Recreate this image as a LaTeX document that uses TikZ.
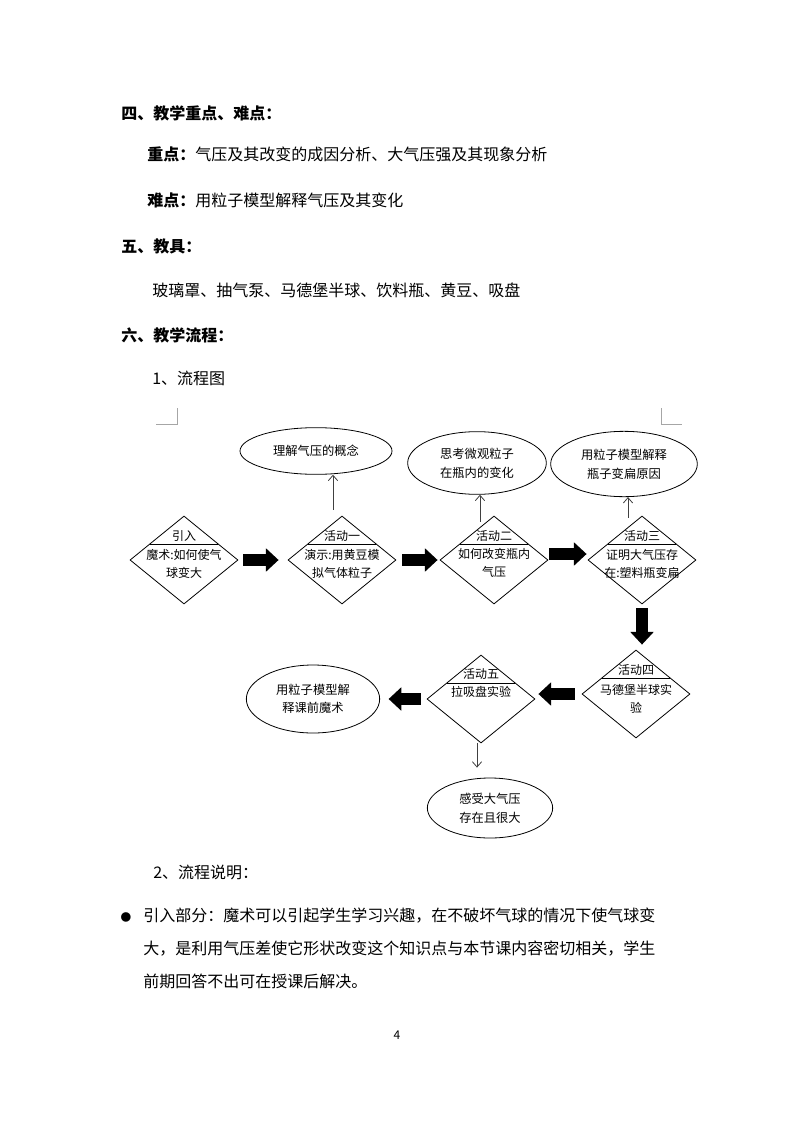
\documentclass[tikz,border=0pt]{standalone}
\usepackage{fontspec}
\setmainfont{Noto Sans CJK SC}
\usepackage{tikz}
\usetikzlibrary{arrows.meta,shapes.geometric}
\tikzset{
  headtext/.style={anchor=west, inner sep=0pt, font=\fontsize{12}{14}\selectfont\bfseries},
  plaintext/.style={anchor=west, inner sep=0pt, font=\fontsize{12}{14}\selectfont},
  stepnode/.style={diamond, draw=black, line width=0.6pt, minimum width=81pt,
    minimum height=66pt, inner sep=0pt},
  titletext/.style={inner sep=0pt, font=\fontsize{9}{14}\selectfont},
  bodytext/.style={inner sep=0pt, align=center, font=\fontsize{9}{14}\selectfont},
  ovalnode/.style={ellipse, draw=black, line width=0.6pt, inner sep=0pt,
    align=center, font=\fontsize{9.2}{14}\selectfont},
  divline/.style={draw=black, line width=0.6pt},
  blockedge/.style={-{Triangle[length=9.5pt,width=17pt]}, draw=black, line width=9pt},
  thinedge/.style={-{Straight Barb[length=4pt,width=7pt]}, draw=black!75, line width=0.6pt},
  cornermark/.style={draw=black!35, line width=0.5pt},
}
\begin{document}
\begin{tikzpicture}[x=0.75pt, y=-0.75pt]
  \fill[white] (0,0) rectangle (794,1123);
  % headings and text above the chart
  \node[headtext] (h4) at (121,113) {四、教学重点、难点：};
  \node[plaintext] (key) at (147,154) {\textbf{重点：}气压及其改变的成因分析、大气压强及其现象分析};
  \node[plaintext] (hard) at (147,200) {\textbf{难点：}用粒子模型解释气压及其变化};
  \node[headtext] (h5) at (121,246) {五、教具：};
  \node[plaintext] (tools) at (152,290) {玻璃罩、抽气泵、马德堡半球、饮料瓶、黄豆、吸盘};
  \node[headtext] (h6) at (121,335) {六、教学流程：};
  \node[plaintext] (sub1) at (152,378) {1、流程图};
  \draw[cornermark] (156,424) -- (177,424) -- (177,408);
  \draw[cornermark] (661,408) -- (661,424) -- (682,424);
  % flow chart
  \node[stepnode] (D0) at (184,560) {};
  \node[stepnode] (D1) at (342,560) {};
  \node[stepnode] (D2) at (494,560) {};
  \node[stepnode] (D3) at (642,560) {};
  \node[stepnode] (D4) at (636,694) {};
  \node[stepnode] (D5) at (481,699) {};
  \foreach \d in {D0,D1,D2,D3,D4,D5}
    \draw[divline] ([shift={(-34.4,-16)}]\d.center) -- ([shift={(34.4,-16)}]\d.center);
  \node[titletext] (D0t) at ([shift={(0,-24)}]D0.center) {引入};
  \node[bodytext] (D0b) at ([shift={(0,4)}]D0.center) {魔术:如何使气\\球变大};
  \node[titletext] (D1t) at ([shift={(0,-24)}]D1.center) {活动一};
  \node[bodytext] (D1b) at ([shift={(0,4)}]D1.center) {演示:用黄豆模\\拟气体粒子};
  \node[titletext] (D2t) at ([shift={(0,-24)}]D2.center) {活动二};
  \node[bodytext] (D2b) at ([shift={(0,3)}]D2.center) {如何改变瓶内\\气压};
  \node[titletext] (D3t) at ([shift={(0,-24)}]D3.center) {活动三};
  \node[bodytext] (D3b) at ([shift={(0,4)}]D3.center) {证明大气压存\\在:塑料瓶变扁};
  \node[titletext] (D4t) at ([shift={(0,-24)}]D4.center) {活动四};
  \node[bodytext] (D4b) at ([shift={(0,5)}]D4.center) {马德堡半球实\\验};
  \node[titletext] (D5t) at ([shift={(0,-25)}]D5.center) {活动五};
  \node[bodytext] (D5b) at ([shift={(0,-7)}]D5.center) {拉吸盘实验};
  \node[ovalnode, minimum width=114pt, minimum height=35pt] (E1) at (316,451) {理解气压的概念};
  \node[ovalnode, minimum width=104pt, minimum height=47pt] (E2) at (477,463) {思考微观粒子\\在瓶内的变化};
  \node[ovalnode, minimum width=110pt, minimum height=49pt] (E3) at (624,464) {用粒子模型解释\\瓶子变扁原因};
  \node[ovalnode, minimum width=100pt, minimum height=51pt] (E4) at (313,699) {用粒子模型解\\释课前魔术};
  \node[ovalnode, minimum width=94pt, minimum height=45pt] (E5) at (490,808) {感受大气压\\存在且很大};
  % main flow
  \draw[blockedge, shorten <=3.75pt, shorten >=6.75pt] (D0) -- (D1);
  \draw[blockedge, shorten <=4.5pt, shorten >=1.5pt] (D1) -- (D2);
  \draw[blockedge, shorten <=0.75pt, shorten >=0.75pt] ([shift={(0,-6)}]D2.east) -- ([shift={(0,-6)}]D3.west);
  \draw[blockedge, shorten <=3pt, shorten >=3.75pt] (D3.south) -- (D3.south |- D4.north);
  \draw[blockedge, shorten <=5.25pt, shorten >=2.25pt] (D4.west) -- (D4.west -| D5.east);
  \draw[blockedge, shorten <=4.5pt, shorten >=6.4pt] (D5.west) -- (E4);
  % side arrows
  \coordinate (t1) at ([shift={(-9,-6)}]D1.north);
  \coordinate (t2) at ([shift={(-14,6)}]D2.north);
  \coordinate (t3) at ([shift={(-14,2)}]D3.north);
  \coordinate (t4) at ([shift={(-4,0)}]D5.south);
  \draw[thinedge] (t1) -- (t1 |- E1.south);
  \draw[thinedge] (t2) -- (t2 |- E2.south);
  \draw[thinedge] (t3) -- (t3 |- E3.south);
  \draw[thinedge, shorten >=7.5pt] (t4) -- (t4 |- E5.north);
  % text below the chart
  \node[plaintext] (sub2) at (153,872) {2、流程说明：};
  \node[inner sep=0pt, font=\fontsize{8}{10}\selectfont] (dot) at (126,917) {●};
  \node[plaintext, anchor=north west, align=left, font=\fontsize{12}{24.6}\selectfont] (para) at (143,908)
    {引入部分：魔术可以引起学生学习兴趣，在不破坏气球的情况下使气球变\\
     大，是利用气压差使它形状改变这个知识点与本节课内容密切相关，学生\\
     前期回答不出可在授课后解决。};
  \node[inner sep=0pt, font=\fontsize{9}{10}\selectfont] (pageno) at (397,1035) {4};
\end{tikzpicture}
\end{document}
